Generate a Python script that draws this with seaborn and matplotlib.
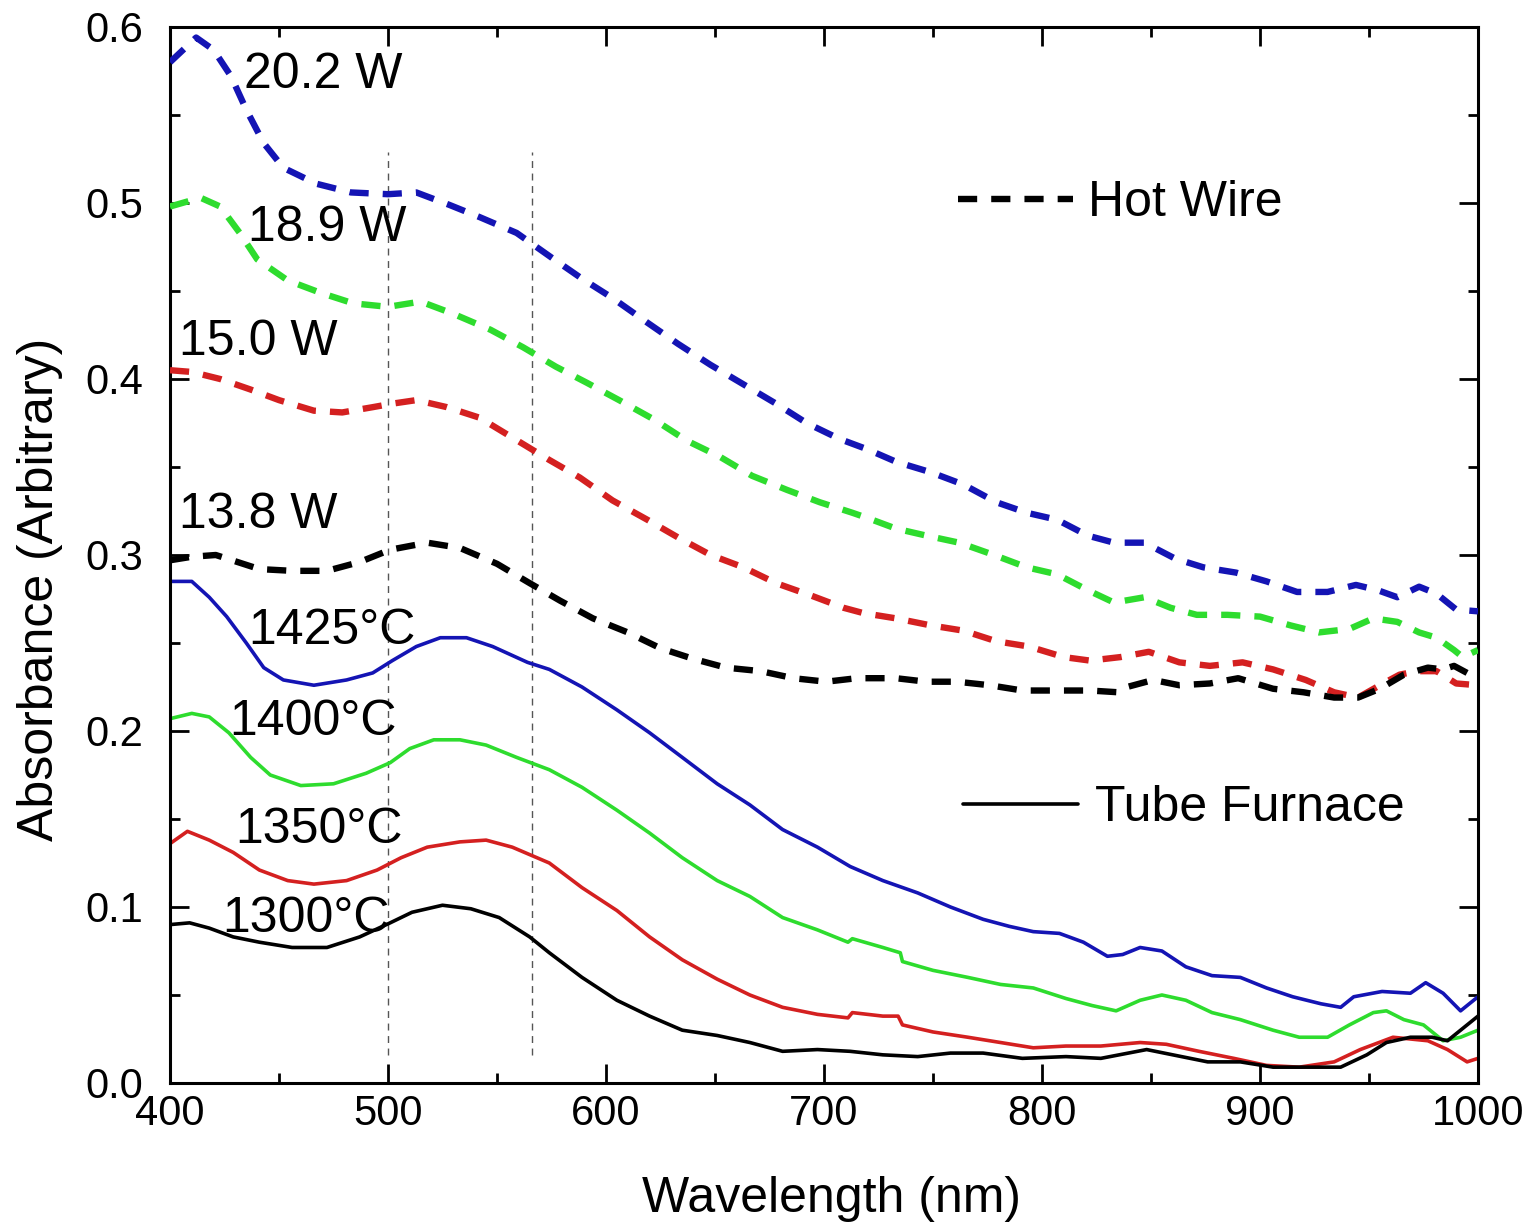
import numpy as np
import pandas as pd
import matplotlib
matplotlib.use("Agg")
import matplotlib.pyplot as plt
from matplotlib.lines import Line2D
from matplotlib.ticker import MultipleLocator, FormatStrFormatter
import seaborn as sns

# ---------------- data ----------------
hw202_wl = [400, 412, 420, 428, 435, 443, 452, 467, 483, 500, 513, 528, 542, 559, 575, 589, 603, 619, 633, 648,
            663, 678, 692, 707, 720, 733, 749, 764, 779, 793, 807, 821, 833, 847, 861, 874, 889, 903, 917, 931,
            944, 954, 963, 973, 981, 990, 1000]
hw202_ab = [0.580, 0.594, 0.587, 0.572, 0.553, 0.534, 0.520, 0.511, 0.506, 0.505, 0.506, 0.499, 0.492, 0.483, 0.469,
            0.457, 0.446, 0.432, 0.420, 0.408, 0.397, 0.386, 0.375, 0.366, 0.360, 0.353, 0.347, 0.340, 0.330, 0.324,
            0.320, 0.311, 0.307, 0.307, 0.298, 0.293, 0.290, 0.285, 0.279, 0.279, 0.283, 0.280, 0.276, 0.282, 0.278,
            0.269, 0.268]

hw189_wl = [400, 414, 423, 432, 440, 454, 469, 484, 500, 515, 530, 547, 562, 577, 591, 606, 622, 637, 652, 667,
            683, 698, 713, 720, 733, 747, 762, 778, 793, 807, 821, 833, 847, 859, 871, 885, 900, 914, 927, 941,
            952, 963, 973, 981, 989, 993, 1000]
hw189_ab = [0.498, 0.503, 0.498, 0.483, 0.468, 0.456, 0.449, 0.443, 0.441, 0.444, 0.437, 0.428, 0.418, 0.407, 0.398,
            0.388, 0.377, 0.365, 0.356, 0.345, 0.337, 0.330, 0.324, 0.321, 0.315, 0.311, 0.307, 0.300, 0.293, 0.289,
            0.280, 0.273, 0.276, 0.270, 0.266, 0.266, 0.265, 0.260, 0.256, 0.258, 0.264, 0.262, 0.256, 0.253, 0.246,
            0.242, 0.246]

hw150_wl = [400, 410, 423, 437, 450, 466, 479, 493, 502, 513, 527, 542, 574, 588, 603, 619, 633, 648, 663, 678,
            694, 709, 718, 733, 749, 764, 779, 794, 810, 822, 836, 849, 863, 877, 892, 906, 921, 934, 945, 955,
            964, 972, 981, 990, 1000]
hw150_ab = [0.405, 0.404, 0.400, 0.394, 0.388, 0.382, 0.381, 0.384, 0.386, 0.388, 0.384, 0.378, 0.354, 0.344, 0.331,
            0.320, 0.310, 0.300, 0.293, 0.284, 0.277, 0.270, 0.267, 0.264, 0.260, 0.257, 0.251, 0.248, 0.242, 0.240,
            0.242, 0.245, 0.239, 0.237, 0.239, 0.235, 0.229, 0.222, 0.219, 0.226, 0.232, 0.234, 0.234, 0.227, 0.226]

hw138_wl = [400, 410, 421, 431, 441, 456, 472, 487, 501, 518, 533, 550, 565, 579, 594, 610, 625, 640, 655, 671,
            686, 701, 715, 733, 747, 761, 776, 791, 807, 822, 835, 839, 851, 863, 877, 890, 906, 920, 934, 945,
            955, 966, 977, 984, 989, 995, 1000]
hw138_ab = [0.297, 0.299, 0.300, 0.296, 0.292, 0.291, 0.291, 0.296, 0.303, 0.307, 0.304, 0.295, 0.284, 0.274, 0.264,
            0.256, 0.247, 0.241, 0.236, 0.234, 0.230, 0.228, 0.230, 0.230, 0.228, 0.228, 0.226, 0.223, 0.223, 0.223,
            0.222, 0.225, 0.229, 0.226, 0.227, 0.230, 0.224, 0.222, 0.219, 0.219, 0.224, 0.232, 0.236, 0.235, 0.237,
            0.233, 0.238]

tf1425_wl = [400, 410, 418, 426, 435, 443, 452, 466, 481, 493, 502, 513, 524, 536, 548, 564, 574, 589, 605, 620,
             635, 651, 666, 681, 697, 712, 727, 743, 758, 773, 785, 796, 808, 819, 830, 837, 845, 855, 866, 878,
             891, 903, 915, 928, 937, 943, 956, 969, 976, 984, 992, 1000]
tf1425_ab = [0.285, 0.285, 0.276, 0.265, 0.250, 0.236, 0.229, 0.226, 0.229, 0.233, 0.240, 0.248, 0.253, 0.253, 0.248,
             0.239, 0.235, 0.225, 0.212, 0.199, 0.185, 0.170, 0.158, 0.144, 0.134, 0.123, 0.115, 0.108, 0.100, 0.093,
             0.089, 0.086, 0.085, 0.080, 0.072, 0.073, 0.077, 0.075, 0.066, 0.061, 0.060, 0.054, 0.049, 0.045, 0.043,
             0.049, 0.052, 0.051, 0.057, 0.051, 0.041, 0.049]

tf1400_wl = [400, 410, 418, 427, 437, 446, 460, 475, 490, 501, 510, 521, 533, 545, 559, 574, 589, 605, 620, 635,
             651, 666, 681, 697, 711, 713, 727, 735, 736, 750, 766, 781, 796, 811, 823, 834, 845, 855, 866, 878,
             891, 906, 918, 931, 941, 952, 958, 966, 975, 984, 992, 1000]
tf1400_ab = [0.207, 0.210, 0.208, 0.199, 0.185, 0.175, 0.169, 0.170, 0.176, 0.182, 0.190, 0.195, 0.195, 0.192, 0.185,
             0.178, 0.168, 0.155, 0.142, 0.128, 0.115, 0.106, 0.094, 0.087, 0.080, 0.082, 0.077, 0.074, 0.069, 0.064,
             0.060, 0.056, 0.054, 0.048, 0.044, 0.041, 0.047, 0.050, 0.047, 0.040, 0.036, 0.030, 0.026, 0.026, 0.033,
             0.040, 0.041, 0.036, 0.033, 0.024, 0.026, 0.030]

tf1350_wl = [400, 408, 418, 429, 441, 454, 466, 481, 495, 506, 518, 533, 545, 557, 574, 589, 605, 620, 635, 651,
             666, 681, 697, 711, 713, 727, 734, 736, 750, 766, 781, 796, 811, 827, 845, 857, 872, 888, 903, 918,
             934, 946, 961, 977, 986, 995, 1000]
tf1350_ab = [0.136, 0.143, 0.138, 0.131, 0.121, 0.115, 0.113, 0.115, 0.121, 0.128, 0.134, 0.137, 0.138, 0.134, 0.125,
             0.111, 0.098, 0.083, 0.070, 0.059, 0.050, 0.043, 0.039, 0.037, 0.040, 0.038, 0.038, 0.033, 0.029, 0.026,
             0.023, 0.020, 0.021, 0.021, 0.023, 0.022, 0.018, 0.014, 0.010, 0.009, 0.012, 0.019, 0.026, 0.024, 0.019,
             0.012, 0.014]

tf1300_wl = [400, 409, 418, 429, 441, 456, 472, 487, 501, 511, 525, 538, 551, 565, 574, 589, 605, 620, 635, 651,
             666, 681, 697, 712, 727, 743, 758, 773, 791, 811, 827, 848, 860, 876, 891, 906, 922, 937, 949, 958,
             969, 979, 986, 995, 1000]
tf1300_ab = [0.090, 0.091, 0.088, 0.083, 0.080, 0.077, 0.077, 0.083, 0.091, 0.097, 0.101, 0.099, 0.094, 0.083, 0.074,
             0.060, 0.047, 0.038, 0.030, 0.027, 0.023, 0.018, 0.019, 0.018, 0.016, 0.015, 0.017, 0.017, 0.014, 0.015,
             0.014, 0.019, 0.016, 0.012, 0.012, 0.009, 0.009, 0.009, 0.016, 0.023, 0.026, 0.026, 0.024, 0.033, 0.038]

sample_names = ["20.2 W", "18.9 W", "15.0 W", "13.8 W", "1425°C", "1400°C", "1350°C", "1300°C"]
sample_methods = ["Hot Wire"] * 4 + ["Tube Furnace"] * 4
sample_wl = [hw202_wl, hw189_wl, hw150_wl, hw138_wl, tf1425_wl, tf1400_wl, tf1350_wl, tf1300_wl]
sample_ab = [hw202_ab, hw189_ab, hw150_ab, hw138_ab, tf1425_ab, tf1400_ab, tf1350_ab, tf1300_ab]

# label anchor positions (left edge, vertical centre) in data units
label_x = [434, 436, 404, 404, 436, 427, 430, 424]
label_y = [0.573, 0.486, 0.421, 0.323, 0.257, 0.205, 0.144, 0.093]

guide_wl = [500, 566]
guide_lo, guide_hi = 0.016, 0.529

x_ticks = [400, 500, 600, 700, 800, 900, 1000]
y_ticks = [0.0, 0.1, 0.2, 0.3, 0.4, 0.5, 0.6]

# ---------------- style ----------------
BLUE, GREEN, RED, BLACK = "#1414B4", "#2EDC2E", "#D42020", "#000000"
palette = {"20.2 W": BLUE, "18.9 W": GREEN, "15.0 W": RED, "13.8 W": BLACK,
           "1425°C": BLUE, "1400°C": GREEN, "1350°C": RED, "1300°C": BLACK}

sns.set_theme(style="ticks")
plt.rcParams["font.family"] = ["Liberation Sans", "DejaVu Sans"]
plt.rcParams["text.color"] = "black"
plt.rcParams["axes.labelcolor"] = "black"
plt.rcParams["xtick.color"] = "black"
plt.rcParams["ytick.color"] = "black"
plt.rcParams["xtick.labelcolor"] = "black"
plt.rcParams["ytick.labelcolor"] = "black"

rows = []
for name, meth, wl, ab in zip(sample_names, sample_methods, sample_wl, sample_ab):
    for w, a in zip(wl, ab):
        rows.append({"Wavelength": w, "Absorbance": a, "Sample": name, "Method": meth})
df = pd.DataFrame(rows)

fig = plt.figure(figsize=(15.32, 12.31), dpi=100)
ax = fig.add_axes([170 / 1532, 1 - 1083 / 1231, 1308 / 1532, 1056 / 1231])

# guide lines
ax.vlines(guide_wl, guide_lo, guide_hi, colors="#555555", linestyles=(0, (5, 4)), linewidth=1.0, zorder=1)

hw = df[df["Method"] == "Hot Wire"]
tf = df[df["Method"] == "Tube Furnace"]
sns.lineplot(data=tf, x="Wavelength", y="Absorbance", hue="Sample", palette=palette,
             estimator=None, sort=True, legend=False, linewidth=2.6, ax=ax, zorder=2)
sns.lineplot(data=hw, x="Wavelength", y="Absorbance", hue="Sample", palette=palette,
             estimator=None, sort=True, legend=False, linewidth=4.6, ax=ax, zorder=3)
for ln in ax.get_lines()[-4:]:
    ln.set_dashes((3.0, 2.2))

for name, lx, ly in zip(sample_names, label_x, label_y):
    ax.text(lx, ly, name, ha="left", va="center", fontsize=36, color="black", zorder=4)

# legends
leg1 = ax.legend(handles=[Line2D([], [], color="black", lw=4.6, dashes=(3.0, 2.2))], labels=["Hot Wire"],
                 loc="center left", bbox_to_anchor=(0.6024, 0.8333), frameon=False, fontsize=36,
                 handlelength=2.3, handletextpad=0.3, borderpad=0, borderaxespad=0, labelcolor="black")
ax.add_artist(leg1)
ax.legend(handles=[Line2D([], [], color="black", lw=2.6)], labels=["Tube Furnace"],
          loc="center left", bbox_to_anchor=(0.606, 0.2604), frameon=False, fontsize=36,
          handlelength=2.3, handletextpad=0.35, borderpad=0, borderaxespad=0, labelcolor="black")

ax.set_xlim(400, 1000)
ax.set_ylim(0.0, 0.6)
ax.set_xticks(x_ticks)
ax.set_yticks(y_ticks)
ax.xaxis.set_minor_locator(MultipleLocator(50))
ax.yaxis.set_minor_locator(MultipleLocator(0.05))
ax.yaxis.set_major_formatter(FormatStrFormatter("%.1f"))

ax.tick_params(which="both", direction="in", top=True, right=True, width=2.0, color="black")
ax.tick_params(which="major", length=14)
ax.tick_params(which="minor", length=7)
ax.tick_params(axis="x", which="major", labelsize=30, pad=8, labelcolor="black")
ax.tick_params(axis="y", which="major", labelsize=30, pad=19, labelcolor="black")
for sp in ax.spines.values():
    sp.set_linewidth(2.2)
    sp.set_color("black")

ax.set_xlabel("Wavelength (nm)", fontsize=36, color="black")
ax.set_ylabel("Absorbance (Arbitrary)", fontsize=36, color="black")
ax.xaxis.set_label_coords(0.506, -0.088)
ax.yaxis.set_label_coords(-0.082, 0.467)

fig.savefig("out.png", dpi=100, facecolor="white")
